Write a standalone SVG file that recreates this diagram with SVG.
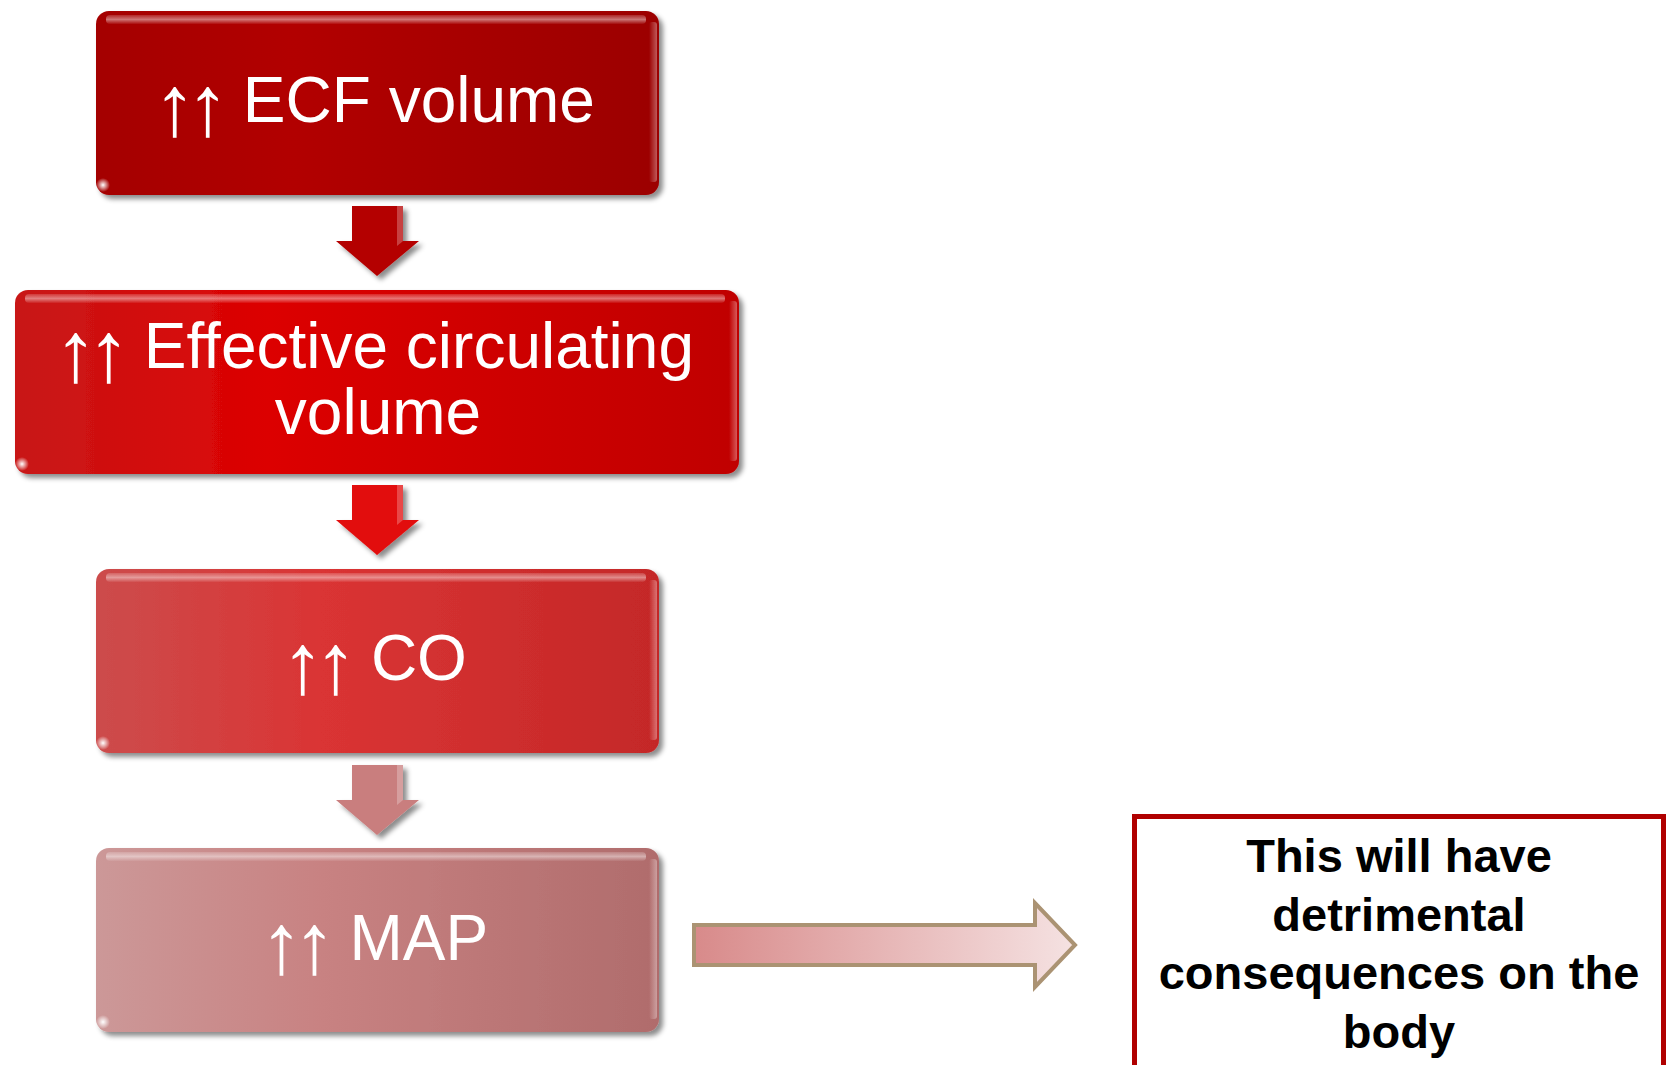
<svg xmlns="http://www.w3.org/2000/svg" width="1668" height="1065" viewBox="0 0 1668 1065">
<defs>
  <filter id="shadow" x="-5%" y="-10%" width="115%" height="130%">
    <feGaussianBlur in="SourceAlpha" stdDeviation="2.5"/>
    <feOffset dx="4" dy="4" result="b"/>
    <feFlood flood-color="#000" flood-opacity="0.45"/>
    <feComposite in2="b" operator="in"/>
    <feMerge><feMergeNode/><feMergeNode in="SourceGraphic"/></feMerge>
  </filter>
  <linearGradient id="g1" x1="0" y1="0" x2="1" y2="0">
    <stop offset="0" stop-color="#a40406"/>
    <stop offset="0.35" stop-color="#b20000"/>
    <stop offset="1" stop-color="#9c0000"/>
  </linearGradient>
  <linearGradient id="g2" x1="0" y1="0" x2="1" y2="0">
    <stop offset="0" stop-color="#c81818"/>
    <stop offset="0.35" stop-color="#dc0202"/>
    <stop offset="1" stop-color="#c00000"/>
  </linearGradient>
  <linearGradient id="g3" x1="0" y1="0" x2="1" y2="0">
    <stop offset="0" stop-color="#cc4c4c"/>
    <stop offset="0.4" stop-color="#da3434"/>
    <stop offset="1" stop-color="#c42828"/>
  </linearGradient>
  <linearGradient id="g4" x1="0" y1="0" x2="1" y2="0">
    <stop offset="0" stop-color="#cc9898"/>
    <stop offset="0.4" stop-color="#c88282"/>
    <stop offset="1" stop-color="#b06c6c"/>
  </linearGradient>
  <linearGradient id="ga" x1="0" y1="0" x2="1" y2="0">
    <stop offset="0" stop-color="#d88a8a"/>
    <stop offset="1" stop-color="#f5e2e2"/>
  </linearGradient>
  <linearGradient id="hl" x1="0" y1="0" x2="0" y2="1">
    <stop offset="0" stop-color="#fff" stop-opacity="0.15"/>
    <stop offset="0.5" stop-color="#fff" stop-opacity="0.45"/>
    <stop offset="1" stop-color="#fff" stop-opacity="0.05"/>
  </linearGradient>
  <linearGradient id="rh" x1="0" y1="0" x2="1" y2="0">
    <stop offset="0" stop-color="#fff" stop-opacity="0"/>
    <stop offset="1" stop-color="#fff" stop-opacity="0.35"/>
  </linearGradient>
  <radialGradient id="glint" cx="0.5" cy="0.5" r="0.5">
    <stop offset="0" stop-color="#fff" stop-opacity="1"/>
    <stop offset="1" stop-color="#fff" stop-opacity="0"/>
  </radialGradient>
  <path id="darrow" d="M16 0 H67 V35 H83 L41 70 L0 35 H16 Z"/>
</defs>
<style>
  .lbl { font-family: "Liberation Sans", Arial, sans-serif; font-size: 64px; fill: #fff; text-anchor: middle; }
  .ar { font-size: 86px; letter-spacing: -10px; }
  .note { font-family: "Liberation Sans", Arial, sans-serif; font-size: 47px; font-weight: bold; fill: #000; text-anchor: middle; }
  .top { fill: url(#hl); }
  .redge { fill: url(#rh); }
</style>

<g id="connectors">
  <g filter="url(#shadow)">
    <use href="#darrow" x="336" y="206" fill="#b40202"/>
    <path d="M397 206 H403 V241 L397 246 Z" fill="#fff" opacity="0.25"/>
  </g>
  <g filter="url(#shadow)">
    <use href="#darrow" x="336" y="485" fill="#e20a0a"/>
    <path d="M397 485 H403 V520 L397 525 Z" fill="#fff" opacity="0.25"/>
  </g>
  <g filter="url(#shadow)">
    <use href="#darrow" x="336" y="765" fill="#c97e7e"/>
    <path d="M397 765 H403 V800 L397 805 Z" fill="#fff" opacity="0.25"/>
  </g>
  <path id="right-arrow" d="M694 925 H1035 V903 L1075 945 L1035 987 V965 H694 Z" fill="url(#ga)" stroke="#ab9373" stroke-width="4"/>
</g>

<g id="node-ecf">
  <rect x="96" y="11" width="563" height="184" rx="13" fill="url(#g1)" filter="url(#shadow)"/>
  <rect x="106" y="15" width="540" height="9" rx="4" class="top"/>
  <rect x="649" y="22" width="8" height="160" rx="3" class="redge"/>
  <circle cx="103" cy="185" r="7" fill="url(#glint)"/>
  <text x="374" y="122" class="lbl"><tspan class="ar" dy="13">↑↑</tspan><tspan dx="6" dy="-13"> ECF volume</tspan></text>
</g>

<g id="node-ecv">
  <rect x="15" y="290" width="724" height="184" rx="13" fill="url(#g2)" filter="url(#shadow)"/>
  <rect x="25" y="294" width="700" height="9" rx="4" class="top"/>
  <rect x="729" y="301" width="8" height="160" rx="3" class="redge"/>
  <circle cx="22" cy="464" r="7" fill="url(#glint)"/>
  <text x="374" y="368" class="lbl"><tspan class="ar" dy="13">↑↑</tspan><tspan dx="6" dy="-13"> Effective circulating</tspan></text>
  <text x="378" y="434" class="lbl">volume</text>
</g>

<g id="node-co">
  <rect x="96" y="569" width="563" height="184" rx="13" fill="url(#g3)" filter="url(#shadow)"/>
  <rect x="106" y="573" width="540" height="9" rx="4" class="top"/>
  <rect x="649" y="580" width="8" height="160" rx="3" class="redge"/>
  <circle cx="103" cy="743" r="7" fill="url(#glint)"/>
  <text x="374" y="680" class="lbl"><tspan class="ar" dy="13">↑↑</tspan><tspan dx="6" dy="-13"> CO</tspan></text>
</g>

<g id="node-map">
  <rect x="96" y="848" width="563" height="184" rx="13" fill="url(#g4)" filter="url(#shadow)"/>
  <rect x="106" y="852" width="540" height="9" rx="4" class="top"/>
  <rect x="649" y="859" width="8" height="160" rx="3" class="redge"/>
  <circle cx="103" cy="1022" r="7" fill="url(#glint)"/>
  <text x="374" y="960" class="lbl"><tspan class="ar" dy="13">↑↑</tspan><tspan dx="6" dy="-13"> MAP</tspan></text>
</g>

<g id="node-note">
  <rect x="1134.5" y="816.5" width="529" height="260" fill="#fff" stroke="#b00000" stroke-width="5"/>
  <text x="1399" y="872" class="note">This will have</text>
  <text x="1399" y="931" class="note">detrimental</text>
  <text x="1399" y="989" class="note">consequences on the</text>
  <text x="1399" y="1048" class="note">body</text>
</g>
</svg>
